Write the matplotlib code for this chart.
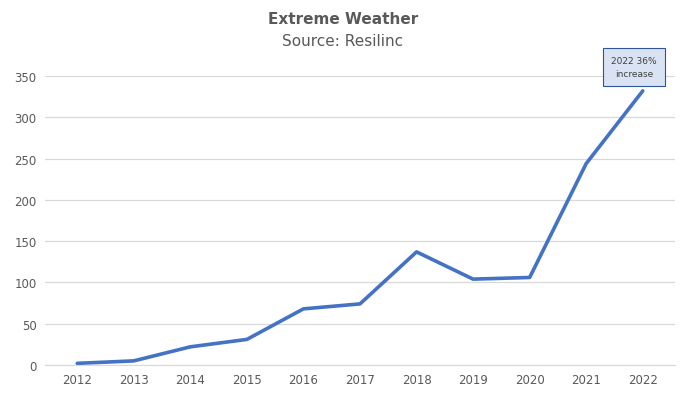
import matplotlib
matplotlib.use("Agg")
import matplotlib.pyplot as plt

years = [2012, 2013, 2014, 2015, 2016, 2017, 2018, 2019, 2020, 2021, 2022]
events = [2, 5, 22, 31, 68, 74, 137, 104, 106, 244, 332]
yticks = [0, 50, 100, 150, 200, 250, 300, 350]

fig = plt.figure(figsize=(6.86, 4.02), dpi=100)
fig.patch.set_facecolor("white")
ax = fig.add_axes([45/686, 1-366/402, 630/686, (366-77)/402])
ax.plot(years, events, color="#4472C4", lw=2.6, solid_capstyle="round", solid_joinstyle="round")
ax.set_xlim(2011.43, 2022.57)
ax.set_ylim(0, 350)
ax.set_yticks(yticks)
ax.set_xticks(years)
ax.grid(axis="y", color="#D9D9D9", lw=0.9)
ax.set_axisbelow(True)
for s in ["top", "right", "left"]:
    ax.spines[s].set_visible(False)
ax.spines["bottom"].set_color("#D9D9D9")
ax.tick_params(length=0, labelsize=8.5, colors="#595959", pad=6)
fig.text(0.5, 1-20/402, "Extreme Weather", ha="center", va="center", fontsize=11, fontweight="bold", color="#595959")
fig.text(0.5, 1-42/402, "Source: Resilinc", ha="center", va="center", fontsize=11, color="#595959")
ax.annotate("2022 36%\nincrease", xy=(2022, 332), xytext=(2021.85, 361), ha="center", va="center",
            fontsize=6.5, color="#404040", annotation_clip=False, linespacing=1.6,
            bbox=dict(boxstyle="square,pad=0.9", fc="#DAE3F3", ec="#2F5597", lw=0.8))
fig.savefig("out.png", dpi=100)
